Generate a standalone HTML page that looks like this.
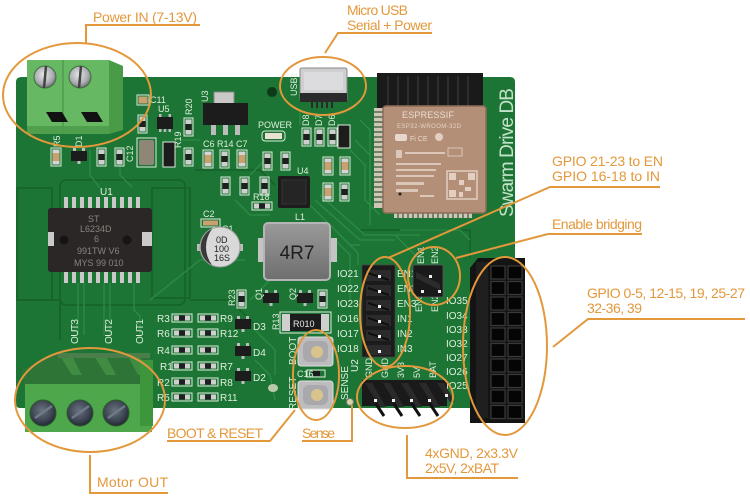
<!DOCTYPE html>
<html><head><meta charset="utf-8"><style>
html,body{margin:0;padding:0;background:#fff;}
svg{display:block;}
.o{font-family:"Liberation Sans",sans-serif;font-size:14px;fill:#e3983c;}
.s{font-family:"Liberation Sans",sans-serif;font-size:9px;fill:#dfeedd;}
.sb{font-family:"Liberation Sans",sans-serif;font-size:10px;fill:#dfeedd;}
</style></head><body>
<svg width="750" height="500" viewBox="0 0 750 500" xmlns="http://www.w3.org/2000/svg">
<defs>
<radialGradient id="scr" cx="0.45" cy="0.4" r="0.6"><stop offset="0" stop-color="#e8e8ea"/><stop offset="0.7" stop-color="#a9abb0"/><stop offset="1" stop-color="#6c6f75"/></radialGradient>
<radialGradient id="scr2" cx="0.45" cy="0.4" r="0.6"><stop offset="0" stop-color="#6a7280"/><stop offset="0.7" stop-color="#3b4350"/><stop offset="1" stop-color="#232932"/></radialGradient>
<linearGradient id="lg" x1="0" y1="0" x2="0" y2="1"><stop offset="0" stop-color="#9a9a9a"/><stop offset="1" stop-color="#6e6e6e"/></linearGradient>
<g id="rh"><rect x="0" y="0" width="20" height="8" fill="none" stroke="#dfeadf" stroke-width="1"/><rect x="2" y="1.5" width="5" height="5" fill="#cfcfcf"/><rect x="7" y="1.5" width="6" height="5" fill="#1f1f1f"/><rect x="13" y="1.5" width="5" height="5" fill="#cfcfcf"/></g>
<g id="rv"><rect x="0" y="0" width="9" height="18" fill="none" stroke="#dfeadf" stroke-width="1"/><rect x="1.5" y="1.5" width="6" height="4.5" fill="#cfcfcf"/><rect x="1.5" y="6" width="6" height="6" fill="#1f1f1f"/><rect x="1.5" y="12" width="6" height="4.5" fill="#cfcfcf"/></g>
<g id="cv"><rect x="0" y="0" width="10" height="18" fill="none" stroke="#dfeadf" stroke-width="1"/><rect x="1.5" y="1.5" width="7" height="15" fill="#c9a070"/><rect x="1.5" y="1.5" width="7" height="3.5" fill="#d4d4d4"/><rect x="1.5" y="13" width="7" height="3.5" fill="#d4d4d4"/></g>
<g id="sot"><rect x="0" y="3" width="16" height="10" fill="#1c1c1c"/><rect x="2" y="0" width="3" height="3" fill="#bdbdbd"/><rect x="11" y="0" width="3" height="3" fill="#bdbdbd"/><rect x="6.5" y="13" width="3" height="3" fill="#bdbdbd"/></g>
</defs>

<rect width="750" height="500" fill="#fff"/>

<!-- Board -->
<path d="M22 77 H510 Q515 77 515 82 V404 Q515 408 511 408 H20 Q16 408 16 404 V82 Q16 77 22 77 Z" fill="#1d7535"/>
<!-- pour regions -->
<g fill="none" stroke="#15612a" stroke-width="1.5">
<rect x="17" y="188" width="35" height="112"/>
<rect x="152" y="188" width="38" height="110"/>
<rect x="60" y="180" width="125" height="125" rx="6"/>
<path d="M17 300 H60 V340 M190 300 H230 L260 330"/>
<path d="M360 230 H470 V258"/>
<path d="M195 170 H260 L275 185"/>
</g>
<!-- traces -->
<g fill="none" stroke="#2c8c47" stroke-width="1.3">
<path d="M78 283 V335 M84 283 V335 M104 283 V335 M110 283 V335 M134 283 V310 L140 316 V335"/>
<path d="M120 150 V175 L132 187 M90 150 V175 L100 188"/>
<path d="M310 205 L350 245 H360 M315 200 L360 240 H395 M320 195 L365 235 H420"/>
<path d="M350 150 L365 165 V200 L380 215 M355 140 L370 155 V225"/>
<path d="M250 300 L290 260 H300 M150 300 L200 260 H245"/>
<path d="M180 140 H200 M250 175 L265 160 M235 200 L250 215 H270"/>
<path d="M335 240 L350 255 V300 M340 235 L358 253 V265"/>
<path d="M395 235 L420 260 M400 230 L460 230 L470 240"/>
<path d="M255 330 L275 350 V375 M255 360 L270 375 L275 400"/>
<path d="M360 120 L370 130 V210 M300 110 L300 125"/>
</g>

<!-- Power terminal block -->
<rect x="27" y="60" width="82" height="74" fill="#66b862"/>
<path d="M109 60 L123 66 V130 L109 134 Z" fill="#4a9b48"/>
<rect x="27" y="126" width="82" height="8" fill="#4f9f4d"/>
<line x1="63" y1="60" x2="63" y2="134" stroke="#4f9a4c" stroke-width="1.5"/>
<circle cx="45" cy="77" r="11" fill="url(#scr)" stroke="#3f6e3d" stroke-width="1"/>
<circle cx="80" cy="77" r="11" fill="url(#scr)" stroke="#3f6e3d" stroke-width="1"/>
<path d="M46 66 L44 88" stroke="#444" stroke-width="2.5"/>
<path d="M81 66 L79 88" stroke="#444" stroke-width="2.5"/>
<path d="M46 112 H62 L68 122 H52 Z" fill="#111"/>
<path d="M81 112 H97 L103 122 H87 Z" fill="#111"/>

<!-- top-left parts -->
<use href="#cv" x="51" y="148"/>
<use href="#sot" x="71" y="148"/>
<use href="#rv" x="97" y="148"/>
<use href="#rv" x="115" y="148"/>
<rect x="137" y="95" width="12" height="10" fill="none" stroke="#dfeadf"/><rect x="138.5" y="96.5" width="9" height="7" fill="#c9a070"/>
<use href="#rv" x="138" y="115"/>
<rect x="137" y="138" width="19" height="29" fill="none" stroke="#dfeadf"/><rect x="139" y="140" width="15" height="25" fill="#8e8676" rx="2"/>
<g transform="translate(157,115)"><rect x="0" y="2" width="16" height="12" fill="#1c1c1c"/><rect x="2" y="-1" width="2.5" height="3" fill="#bbb"/><rect x="11.5" y="-1" width="2.5" height="3" fill="#bbb"/><rect x="2" y="14" width="2.5" height="3" fill="#bbb"/><rect x="6.7" y="14" width="2.5" height="3" fill="#bbb"/><rect x="11.5" y="14" width="2.5" height="3" fill="#bbb"/></g>
<rect x="163" y="142" width="12" height="25" fill="#1c1c1c" stroke="#dfeadf"/>
<use href="#rv" x="184" y="118"/>
<use href="#rv" x="184" y="148"/>
<text class="s" x="150" y="103">C11</text>
<text class="s" x="158" y="112">U5</text>
<text class="s" transform="translate(192,115) rotate(-90)">R20</text>
<text class="s" transform="translate(181,148) rotate(-90)">R19</text>
<text class="s" transform="translate(133,162) rotate(-90)">C12</text>
<text class="s" transform="translate(60,147) rotate(-90)">R5</text>
<text class="s" transform="translate(82,147) rotate(-90)">D1</text>

<!-- U3 regulator -->
<rect x="214" y="92" width="20" height="12" fill="#c8c8c8" stroke="#888"/>
<rect x="203" y="103" width="45" height="22" fill="#1c1c1c"/>
<rect x="211" y="125" width="5" height="10" fill="#bcbcbc"/><rect x="223" y="125" width="5" height="10" fill="#bcbcbc"/><rect x="235" y="125" width="5" height="10" fill="#bcbcbc"/>
<text class="s" transform="translate(208,102) rotate(-90)">U3</text>
<circle cx="272" cy="92" r="5" fill="#0f3a1a"/>
<!-- Power LED -->
<text class="s" x="258" y="128">POWER</text>
<rect x="262" y="131" width="23" height="10" rx="3" fill="none" stroke="#dfeadf"/><rect x="265" y="133" width="17" height="6" fill="#e9e2d0"/>
<!-- caps row -->
<text class="s" x="203" y="147">C6 R14 C7</text>
<use href="#cv" x="203" y="150"/>
<use href="#rv" x="220" y="150"/>
<use href="#cv" x="237" y="150"/>
<use href="#rv" x="263" y="152"/>
<use href="#rv" x="281" y="152"/>
<!-- D8 D7 D6 D5 -->
<use href="#rv" x="302" y="128"/>
<use href="#rv" x="315" y="128"/>
<use href="#rv" x="328" y="128"/>
<rect x="338" y="125" width="12" height="23" fill="#1c1c1c" stroke="#dfeadf"/>
<text class="s" transform="translate(309,126) rotate(-90)">D8</text>
<text class="s" transform="translate(322,126) rotate(-90)">D7</text>
<text class="s" transform="translate(335,126) rotate(-90)">D6</text>
<!-- USB -->
<rect x="300" y="68" width="47" height="33" rx="2" fill="#cfcfd2" stroke="#888"/>
<rect x="304" y="72" width="39" height="18" fill="#dcdcde"/>
<rect x="300" y="93" width="47" height="9" fill="#2a2a2a"/>
<path d="M312 101 V108 M317 101 V108 M322 101 V108 M327 101 V108 M332 101 V108" stroke="#2a2a2a" stroke-width="2"/>
<text class="s" transform="translate(297,96) rotate(-90)">USB1</text>
<!-- R16 R15 R17 R18 U4 -->
<use href="#rv" x="221" y="177"/>
<use href="#rv" x="240" y="177"/>
<use href="#rv" x="260" y="177"/>
<use href="#rh" x="252" y="202"/>
<text class="s" x="253" y="200">R18</text>
<rect x="278" y="176" width="32" height="32" rx="2" fill="#1d1d1d"/>
<rect x="282" y="180" width="24" height="24" fill="#252525" stroke="#333"/>
<text class="s" x="297" y="174">U4</text>
<use href="#cv" x="323" y="157"/>
<use href="#cv" x="340" y="157"/>
<use href="#cv" x="323" y="183"/>
<use href="#rv" x="340" y="183"/>

<!-- ESP32 header & module -->
<rect x="377" y="73" width="106" height="36" fill="#1a1a1a"/>
<g stroke="#2e2e2e" stroke-width="2"><path d="M388 76 V106 M398 76 V106 M408 76 V106 M418 76 V106 M428 76 V106 M438 76 V106 M448 76 V106 M458 76 V106 M468 76 V106"/></g>
<rect x="374" y="108" width="12" height="100" fill="#cfc6b8"/>
<g stroke="#2d5a35" stroke-width="1.2"><path d="M374 112 H386 M374 117 H386 M374 122 H386 M374 127 H386 M374 132 H386 M374 137 H386 M374 142 H386 M374 147 H386 M374 152 H386 M374 157 H386 M374 162 H386 M374 167 H386 M374 172 H386 M374 177 H386 M374 182 H386 M374 187 H386 M374 192 H386 M374 197 H386 M374 202 H386"/></g>
<rect x="394" y="208" width="78" height="10" fill="#cfc6b8"/>
<g stroke="#2d5a35" stroke-width="1.2"><path d="M398 208 V218 M403 208 V218 M408 208 V218 M413 208 V218 M418 208 V218 M423 208 V218 M428 208 V218 M433 208 V218 M438 208 V218 M443 208 V218 M448 208 V218 M453 208 V218 M458 208 V218 M463 208 V218 M468 208 V218"/></g>
<rect x="383" y="106" width="103" height="107" rx="3" fill="#b38f77" stroke="#8c6c58" stroke-width="1.5"/>
<text x="402" y="118" font-family="Liberation Sans,sans-serif" font-size="9" fill="#eadbd0" textLength="52">ESPRESSIF</text>
<text x="397" y="128" font-family="Liberation Sans,sans-serif" font-size="6" fill="#e5d3c6" textLength="64">ESP32-WROOM-32D</text>
<rect x="395" y="134" width="12" height="7" rx="2" fill="#e8d8cc"/>
<text x="410" y="141" font-family="Liberation Sans,sans-serif" font-size="7" fill="#e8d8cc">Fi CE</text>
<circle cx="439" cy="137" r="4" fill="#e2cfc2"/>
<g fill="#dcc6b7"><rect x="396" y="150" width="6" height="8"/><rect x="405" y="152" width="40" height="2"/><rect x="448" y="148" width="14" height="8" fill="none" stroke="#dcc6b7"/><rect x="396" y="163" width="45" height="2"/><rect x="396" y="169" width="40" height="2"/><rect x="396" y="175" width="38" height="2"/><rect x="396" y="182" width="28" height="3"/><rect x="396" y="189" width="22" height="3"/><rect x="420" y="195" width="14" height="2"/></g>
<rect x="447" y="171" width="30" height="28" fill="none" stroke="#e2cfc2" stroke-width="1.5"/>
<g fill="#e2cfc2"><rect x="449" y="173" width="7" height="7"/><rect x="468" y="173" width="7" height="7"/><rect x="449" y="190" width="7" height="7"/><rect x="459" y="180" width="5" height="5"/><rect x="465" y="187" width="6" height="4"/><rect x="459" y="192" width="4" height="5"/></g>
<circle cx="400" cy="194" r="1.5" fill="#222"/>
<!-- Swarm Drive DB -->
<text transform="translate(513,217) rotate(-90)" font-family="Liberation Sans,sans-serif" font-size="19" fill="#c3e2c9" textLength="129">Swarm Drive DB</text>

<!-- U1 chip -->
<g fill="#c9c9c9"><rect x="64" y="197" width="4" height="11"/><rect x="72" y="197" width="4" height="11"/><rect x="80" y="197" width="4" height="11"/><rect x="88" y="197" width="4" height="11"/><rect x="96" y="197" width="4" height="11"/><rect x="104" y="197" width="4" height="11"/><rect x="112" y="197" width="4" height="11"/><rect x="120" y="197" width="4" height="11"/><rect x="128" y="197" width="4" height="11"/><rect x="136" y="197" width="4" height="11"/>
<rect x="64" y="272" width="4" height="11"/><rect x="72" y="272" width="4" height="11"/><rect x="80" y="272" width="4" height="11"/><rect x="88" y="272" width="4" height="11"/><rect x="96" y="272" width="4" height="11"/><rect x="104" y="272" width="4" height="11"/><rect x="112" y="272" width="4" height="11"/><rect x="120" y="272" width="4" height="11"/><rect x="128" y="272" width="4" height="11"/><rect x="136" y="272" width="4" height="11"/></g>
<rect x="48" y="208" width="104" height="64" rx="3" fill="#2b2726"/>
<rect x="48" y="232" width="6" height="14" fill="#c9c9c9"/><rect x="142" y="232" width="10" height="14" fill="#c9c9c9"/>
<circle cx="64" cy="240" r="4.5" fill="#161414"/><circle cx="127" cy="240" r="4.5" fill="#161414"/>
<g font-family="Liberation Sans,sans-serif" fill="#8a837f" font-size="9"><text x="88" y="222">ST</text><text x="80" y="232">L6234D</text><text x="94" y="242">6</text><text x="77" y="254">991TW V6</text><text x="74" y="266">MYS 99 010</text></g>
<text class="sb" x="100" y="195">U1</text>
<!-- OUT labels -->
<text class="sb" transform="translate(78,344) rotate(-90)" textLength="25">OUT3</text>
<text class="sb" transform="translate(112,344) rotate(-90)" textLength="25">OUT2</text>
<text class="sb" transform="translate(143,344) rotate(-90)" textLength="25">OUT1</text>

<!-- C2 C1 -->
<rect x="201" y="219" width="19" height="8" fill="none" stroke="#dfeadf"/><rect x="203" y="220.5" width="15" height="5" fill="#c9a070"/>
<text class="s" x="203" y="217">C2</text><text class="s" x="222" y="232">C1</text>
<rect x="197" y="244" width="5" height="7" fill="#bbb"/><rect x="238" y="244" width="5" height="7" fill="#bbb"/>
<circle cx="220" cy="247" r="20" fill="#d9d9da" stroke="#a0a0a0"/>
<path d="M212 229 A20 20 0 0 0 212 265 A30 30 0 0 1 212 229 Z" fill="#3a3a3a"/>
<g font-family="Liberation Sans,sans-serif" font-size="9" fill="#222"><text x="216" y="243">0D</text><text x="214" y="252">100</text><text x="214" y="261">16S</text></g>

<!-- L1 -->
<text class="s" x="295" y="220">L1</text>
<rect x="258" y="238" width="9" height="24" fill="#c4c4c4"/><rect x="328" y="238" width="9" height="24" fill="#c4c4c4"/>
<rect x="264" y="223" width="66" height="57" rx="4" fill="url(#lg)" stroke="#b5b5b5" stroke-width="2"/>
<text x="297" y="259" text-anchor="middle" font-family="Liberation Sans,sans-serif" font-size="19" fill="#1e1e1e">4R7</text>

<!-- Q1 Q2 R23 R22 -->
<use href="#rv" x="237" y="290"/>
<use href="#sot" x="263" y="290"/>
<use href="#sot" x="297" y="290"/>
<use href="#rv" x="318" y="290"/>
<text class="s" transform="translate(235,306) rotate(-90)">R23</text>
<text class="s" transform="translate(262,300) rotate(-90)">Q1</text>
<text class="s" transform="translate(296,300) rotate(-90)">Q2</text>
<!-- R010 -->
<rect x="280" y="312" width="51" height="21" fill="none" stroke="#dfeadf"/>
<rect x="282" y="314" width="8" height="17" fill="#cfcfcf"/><rect x="321" y="314" width="8" height="17" fill="#cfcfcf"/>
<rect x="290" y="314" width="31" height="17" fill="#1c1c1c"/>
<text x="293" y="327" font-family="Liberation Sans,sans-serif" font-size="9" fill="#e8e8e8">R010</text>
<text class="s" transform="translate(279,330) rotate(-90)">R13</text>

<!-- resistor rows -->
<use href="#rh" x="172" y="314"/><use href="#rh" x="198" y="314"/>
<use href="#rh" x="172" y="329"/><use href="#rh" x="198" y="329"/>
<use href="#rh" x="172" y="346"/><use href="#rh" x="198" y="346"/>
<use href="#rh" x="172" y="362"/><use href="#rh" x="198" y="362"/>
<use href="#rh" x="172" y="378"/><use href="#rh" x="198" y="378"/>
<use href="#rh" x="172" y="393"/><use href="#rh" x="198" y="393"/>
<g class="sb"><text x="157" y="322">R3</text><text x="157" y="337">R6</text><text x="157" y="354">R4</text><text x="160" y="370">R1</text><text x="157" y="386">R2</text><text x="157" y="401">R5</text>
<text x="220" y="322">R9</text><text x="220" y="337">R12</text><text x="220" y="370">R7</text><text x="220" y="386">R8</text><text x="220" y="401">R11</text></g>
<use href="#sot" x="235" y="316"/><use href="#sot" x="235" y="343"/><use href="#sot" x="235" y="368"/>
<g class="sb"><text x="253" y="330">D3</text><text x="253" y="356">D4</text><text x="253" y="381">D2</text></g>
<ellipse cx="273" cy="388" rx="5" ry="4" fill="#b9c9a9"/>

<!-- buttons -->
<rect x="298" y="337" width="35" height="29" rx="3" fill="#bdbdc0" stroke="#e0e0e0"/>
<rect x="303" y="341" width="25" height="21" rx="6" fill="#a9a9ad"/>
<circle cx="317" cy="352" r="6" fill="#d8c48c"/>
<rect x="307" y="370" width="18" height="7" fill="none" stroke="#dfeadf"/><rect x="312" y="371" width="8" height="5" fill="#1c1c1c"/>
<text class="s" x="297" y="377">C16</text>
<rect x="298" y="381" width="35" height="28" rx="3" fill="#bdbdc0" stroke="#e0e0e0"/>
<rect x="303" y="385" width="25" height="20" rx="6" fill="#a9a9ad"/>
<circle cx="317" cy="395" r="6" fill="#d8c48c"/>
<text class="sb" transform="translate(296,365) rotate(-90)">BOOT</text>
<text class="sb" transform="translate(296,410) rotate(-90)">RESET</text>
<text class="sb" transform="translate(348,400) rotate(-90)">SENSE</text>
<text class="sb" transform="translate(358,372) rotate(-90)">U2</text>
<circle cx="350" cy="402" r="3.5" fill="#d7d3a5" stroke="#777"/>

<!-- IO labels -->
<g class="sb"><text x="337" y="277">IO21</text><text x="337" y="292">IO22</text><text x="337" y="307">IO23</text><text x="337" y="322">IO16</text><text x="337" y="337">IO17</text><text x="337" y="352">IO18</text>
<text x="397" y="277">EN1</text><text x="397" y="292">EN2</text><text x="397" y="307">EN3</text><text x="397" y="322">IN1</text><text x="397" y="337">IN2</text><text x="397" y="352">IN3</text>
<text x="446" y="304">IO35</text><text x="446" y="319">IO34</text><text x="446" y="333">IO33</text><text x="446" y="347">IO32</text><text x="446" y="361">IO27</text><text x="446" y="375">IO26</text><text x="446" y="389">IO25</text></g>
<g class="s"><text transform="translate(424,264) rotate(-90)">EN1</text><text transform="translate(438,264) rotate(-90)">EN2</text><text transform="translate(422,312) rotate(-90)">EN3</text><text transform="translate(438,312) rotate(-90)">EN2</text>
<text transform="translate(372,378) rotate(-90)">GND</text><text transform="translate(388,378) rotate(-90)">GND</text><text transform="translate(404,378) rotate(-90)">3V3</text><text transform="translate(420,378) rotate(-90)">5V</text><text transform="translate(436,378) rotate(-90)">BAT</text></g>

<!-- vertical male header -->
<rect x="362" y="265" width="33" height="92" fill="#1b1b1b" stroke="#444" stroke-width="0.8"/>
<g fill="#2b2b2b"><rect x="366" y="270" width="25" height="11"/><rect x="366" y="285" width="25" height="11"/><rect x="366" y="300" width="25" height="11"/><rect x="366" y="315" width="25" height="11"/><rect x="366" y="330" width="25" height="11"/><rect x="366" y="345" width="25" height="10"/></g>
<g fill="#0d0d0d"><path d="M368 272 L389 279 V281 L368 274Z M368 287 L389 294 V296 L368 289Z M368 302 L389 309 V311 L368 304Z M368 317 L389 324 V326 L368 319Z M368 332 L389 339 V341 L368 334Z"/></g>
<g fill="#f2f2f2"><rect x="378" y="275" width="3" height="3"/><rect x="378" y="290" width="3" height="3"/><rect x="378" y="305" width="3" height="3"/><rect x="378" y="320" width="3" height="3"/><rect x="378" y="335" width="3" height="3"/><rect x="378" y="350" width="3" height="3"/></g>
<!-- jumper block -->
<rect x="413" y="265" width="30" height="32" fill="#1a1a1a" stroke="#555" stroke-width="0.8"/>
<path d="M416 272 L440 284 V290 L416 278Z" fill="#2c2c2c"/>
<g fill="#f0f0f0"><rect x="429" y="275" width="3" height="3"/><rect x="421" y="290" width="3" height="3"/><rect x="438" y="290" width="3" height="3"/></g>
<!-- bottom horizontal header -->
<rect x="362" y="380" width="85" height="26" fill="#1a1a1a"/>
<g fill="#2a2a2a"><path d="M365 383 L380 407 H386 L372 383Z M383 383 L398 407 H404 L390 383Z M401 383 L416 407 H422 L408 383Z M419 383 L434 407 H440 L426 383Z M437 383 L450 402 H455 L444 383Z"/></g>
<g stroke="#111" stroke-width="3"><path d="M376 404 L384 416 M394 404 L402 416 M412 404 L420 416 M430 404 L438 416"/></g>
<g fill="#f0f0f0"><rect x="374" y="399" width="3" height="3"/><rect x="392" y="399" width="3" height="3"/><rect x="410" y="399" width="3" height="3"/><rect x="428" y="399" width="3" height="3"/><rect x="445" y="394" width="3" height="3"/></g>

<!-- right female header -->
<path d="M470 268 L478 258 H525 V423 H470 Z" fill="#141414"/>
<rect x="476" y="262" width="12" height="156" fill="#1f1f1f"/>
<g fill="#050505" stroke="#3a3a3a" stroke-width="1.2">
<rect x="491" y="266" width="14" height="13"/><rect x="508" y="266" width="14" height="13"/>
<rect x="491" y="281.5" width="14" height="13"/><rect x="508" y="281.5" width="14" height="13"/>
<rect x="491" y="297" width="14" height="13"/><rect x="508" y="297" width="14" height="13"/>
<rect x="491" y="312.5" width="14" height="13"/><rect x="508" y="312.5" width="14" height="13"/>
<rect x="491" y="328" width="14" height="13"/><rect x="508" y="328" width="14" height="13"/>
<rect x="491" y="343.5" width="14" height="13"/><rect x="508" y="343.5" width="14" height="13"/>
<rect x="491" y="359" width="14" height="13"/><rect x="508" y="359" width="14" height="13"/>
<rect x="491" y="374.5" width="14" height="13"/><rect x="508" y="374.5" width="14" height="13"/>
<rect x="491" y="390" width="14" height="13"/><rect x="508" y="390" width="14" height="13"/>
<rect x="491" y="405.5" width="14" height="13"/><rect x="508" y="405.5" width="14" height="13"/>
</g>

<!-- Motor terminal block -->
<path d="M22 370 L60 353 H150 V390 H25 Z" fill="#2f7437"/>
<g fill="#3f8c42"><path d="M60 356 L72 375 H82 L72 356Z M94 356 L106 375 H116 L106 356Z M128 356 L138 375 H146 L140 356Z"/></g>
<rect x="58" y="353" width="92" height="5" fill="#4b7e4a"/>
<rect x="25" y="384" width="127" height="48" fill="#4ea84b"/>
<rect x="140" y="360" width="13" height="66" fill="#3d963b"/>
<circle cx="43" cy="413" r="13" fill="url(#scr2)" stroke="#2b5a2b"/>
<circle cx="80" cy="413" r="13" fill="url(#scr2)" stroke="#2b5a2b"/>
<circle cx="116" cy="413" r="13" fill="url(#scr2)" stroke="#2b5a2b"/>
<path d="M35 418 L52 406 M72 418 L89 406 M108 418 L125 406" stroke="#6f7a88" stroke-width="2.5"/>

<!-- Orange annotations -->
<g fill="none" stroke="#e3983c" stroke-width="2">
<ellipse cx="77" cy="95" rx="74" ry="52"/>
<ellipse cx="323" cy="86" rx="43" ry="29"/>
<ellipse cx="90" cy="400" rx="75" ry="52"/>
<ellipse cx="316" cy="375" rx="23" ry="45"/>
<ellipse cx="385" cy="312" rx="25" ry="55"/>
<ellipse cx="434" cy="276" rx="26" ry="29"/>
<ellipse cx="405" cy="397" rx="48" ry="31"/>
<ellipse cx="505" cy="346" rx="42" ry="89"/>
<path d="M86 43 V25 H200"/>
<path d="M325 53 L338 33 H432"/>
<path d="M388 258 L550 187 H660"/>
<path d="M456 258 L548 234 H642"/>
<path d="M553 347 L588 319 H745"/>
<path d="M407 435 V478 H518"/>
<path d="M295 410 L270 441 H167"/>
<path d="M352 405 V441 H302"/>
<path d="M90 455 V493 H168"/>
</g>
<text class="o" x="93" y="22" textLength="104">Power IN (7-13V)</text>
<text class="o" x="347" y="15" textLength="61">Micro USB</text>
<text class="o" x="347" y="30" textLength="85">Serial + Power</text>
<text class="o" x="552" y="166" textLength="111">GPIO 21-23 to EN</text>
<text class="o" x="552" y="181" textLength="108">GPIO 16-18 to IN</text>
<text class="o" x="552" y="229" textLength="90">Enable bridging</text>
<text class="o" x="587" y="298" textLength="158">GPIO 0-5, 12-15, 19, 25-27</text>
<text class="o" x="587" y="313" textLength="55">32-36, 39</text>
<text class="o" x="425" y="458" textLength="93">4xGND, 2x3.3V</text>
<text class="o" x="425" y="473" textLength="74">2x5V, 2xBAT</text>
<text class="o" x="167" y="438" textLength="96">BOOT &amp; RESET</text>
<text class="o" x="302" y="438" textLength="33">Sense</text>
<text class="o" x="97" y="487" textLength="71">Motor OUT</text>
</svg>
</body></html>
